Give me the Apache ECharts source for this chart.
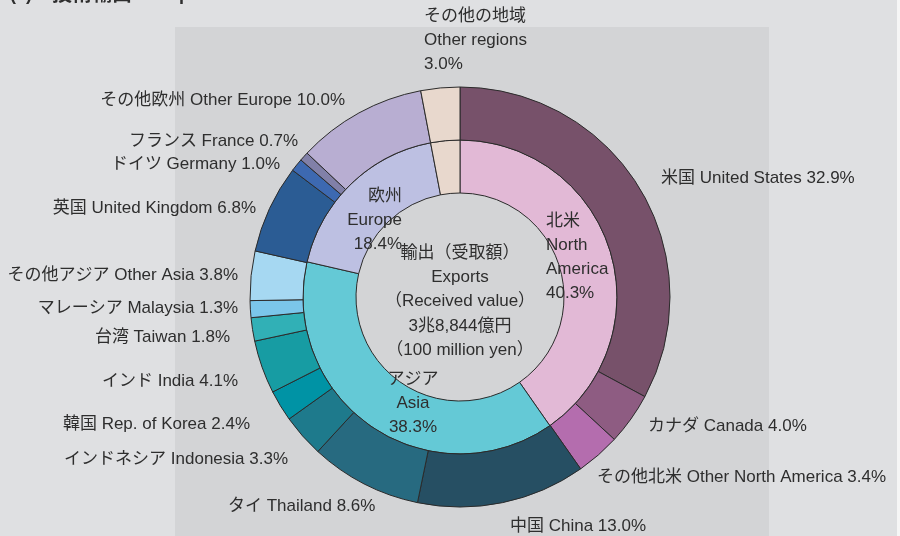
<!DOCTYPE html>
<html><head><meta charset="utf-8">
<script src="https://cdn.jsdelivr.net/npm/echarts@6/dist/echarts.min.js"></script>
<style>html,body{margin:0;padding:0;background:#dfe0e2;}#c{width:900px;height:536px;}</style>
</head><body><div id="c"></div>
<script>
// Inner ring: regions
const regionJa = ['北米', 'アジア', '欧州', 'その他の地域'];
const regionEn = ['North\nAmerica', 'Asia', 'Europe', 'Other regions'];
const regionValues = [40.3, 38.3, 18.4, 3.0];
const regionColors = ['#e2b9d6', '#64c9d6', '#bdc0e2', '#e8d8cd'];

// Outer ring: countries
const leafJa = ['米国', 'カナダ', 'その他北米', '中国', 'タイ', 'インドネシア', '韓国', 'インド', '台湾', 'マレーシア', 'その他アジア', '英国', 'ドイツ', 'フランス', 'その他欧州', 'その他の地域'];
const leafEn = ['United States', 'Canada', 'Other North America', 'China', 'Thailand', 'Indonesia', 'Rep. of Korea', 'India', 'Taiwan', 'Malaysia', 'Other Asia', 'United Kingdom', 'Germany', 'France', 'Other Europe', 'Other regions'];
const leafValues = [32.9, 4.0, 3.4, 13.0, 8.6, 3.3, 2.4, 4.1, 1.8, 1.3, 3.8, 6.8, 1.0, 0.7, 10.0, 3.0];
const leafColors = ['#77516a', '#8e5c82', '#b46dae', '#264f63', '#276a80', '#1e7a8c', '#0093a5', '#179ca3', '#31b0b6', '#7bc6ea', '#a6d8f2', '#2b5c94', '#3d69b1', '#8180a8', '#b8aed2', '#e8d8cd'];

const centerLines = ['輸出（受取額）', 'Exports', '（Received value）', '3兆8,844億円', '（100 million yen）'];

// label placement (layout only)
const leafLabelPos = [
  [661, 178, 'left'], [648, 426, 'left'], [597, 477, 'left'], [510, 526, 'left'],
  [228, 506, 'left'], [288, 459, 'right'], [250, 424, 'right'], [238, 381, 'right'],
  [230, 337, 'right'], [238, 308, 'right'], [238, 275, 'right'], [256, 208, 'right'],
  [280, 164, 'right'], [298, 141, 'right'], [345, 100, 'right'], [424, 40, 'left']
];
const regionLabelPos = [[546, 257, 'left'], [413, 403, 'center'], [402, 220, 'right'], null];

const FONT = '"Liberation Sans", "Noto Sans CJK JP", sans-serif';
const TXT = '#2e2e2e';
const FS = 17;

const chart = echarts.init(document.getElementById('c'));
chart.setOption({
  backgroundColor: '#dfe0e2',
  animation: false,
  title: {
    text: '{a|(1)}{b|　技術輸出　}{a| Exports}',
    left: 10, top: -15, padding: 0,
    textStyle: {
      fontFamily: FONT, fontWeight: 'bold', color: TXT,
      rich: {
        a: { fontFamily: FONT, fontSize: 18, fontWeight: 'bold', color: TXT },
        b: { fontFamily: FONT, fontSize: 20, fontWeight: 'bold', color: TXT }
      }
    }
  },
  graphic: [
    { type: 'rect', z: -10, shape: { x: 175, y: 27, width: 594, height: 520 }, style: { fill: '#d3d4d6' } },
    { type: 'rect', z: -10, shape: { x: 897, y: 0, width: 3, height: 536 }, style: { fill: '#f6f6f6' } },
    {
      type: 'text', z: 100, x: 460, y: 241,
      style: {
        text: centerLines.join('\n'), textAlign: 'center', textVerticalAlign: 'top',
        fontFamily: FONT, fontSize: FS, lineHeight: 24.3, fill: TXT
      }
    }
  ],
  series: [
    {
      type: 'pie', center: [460, 297], radius: [104, 157], startAngle: 90, clockwise: true,
      avoidLabelOverlap: false, silent: true,
      itemStyle: { borderColor: '#2b2b2b', borderWidth: 1 },
      label: {
        show: true, position: 'outside', fontFamily: FONT, fontSize: FS, lineHeight: 24, color: TXT,
        formatter: p => p.dataIndex === 3 ? '' : regionJa[p.dataIndex] + '\n' + regionEn[p.dataIndex] + '\n' + regionValues[p.dataIndex].toFixed(1) + '%'
      },
      labelLine: { show: false },
      labelLayout: p => {
        const pos = regionLabelPos[p.dataIndex];
        if (!pos) return {};
        return { x: pos[0], y: pos[1], align: pos[2], verticalAlign: 'middle' };
      },
      data: regionValues.map((v, i) => ({ value: v, name: regionJa[i], itemStyle: { color: regionColors[i] } }))
    },
    {
      type: 'pie', center: [460, 297], radius: [157, 210], startAngle: 90, clockwise: true,
      avoidLabelOverlap: false, silent: true,
      itemStyle: { borderColor: '#2b2b2b', borderWidth: 1 },
      label: {
        show: true, position: 'outside', fontFamily: FONT, fontSize: FS, lineHeight: 24, color: TXT,
        formatter: p => p.dataIndex === 15
          ? leafJa[15] + '\n' + leafEn[15] + '\n' + leafValues[15].toFixed(1) + '%'
          : leafJa[p.dataIndex] + ' ' + leafEn[p.dataIndex] + ' ' + leafValues[p.dataIndex].toFixed(1) + '%'
      },
      labelLine: { show: false },
      labelLayout: p => {
        const pos = leafLabelPos[p.dataIndex];
        return { x: pos[0], y: pos[1], align: pos[2], verticalAlign: 'middle' };
      },
      data: leafValues.map((v, i) => ({ value: v, name: leafJa[i], itemStyle: { color: leafColors[i] } }))
    }
  ]
});
</script></body></html>
